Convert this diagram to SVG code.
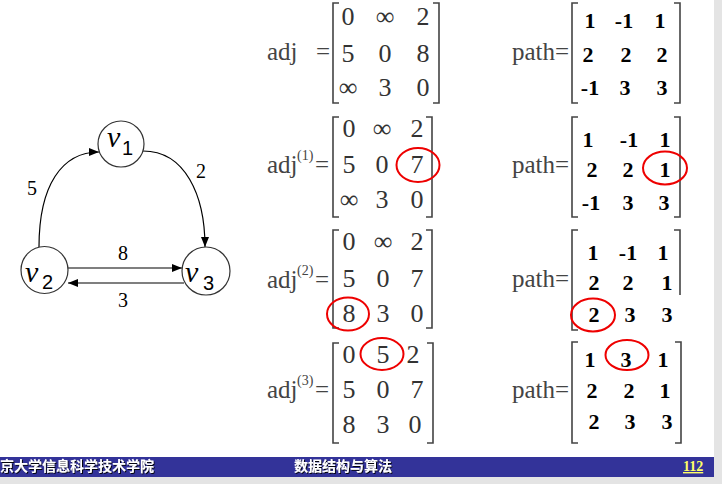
<svg xmlns="http://www.w3.org/2000/svg" width="722" height="484" viewBox="0 0 722 484">
<style>
.node circle{fill:#fff;stroke:#333;stroke-width:1.2}
.vl{font-style:italic;font-size:30px;fill:#000}
.vs{font-size:20px;fill:#000}
.el{font-size:20px;fill:#000;text-anchor:middle}
.edge{fill:none;stroke:#000;stroke-width:1.2}
.lab{font-size:25px;fill:#444}
.sup{font-size:14px;fill:#444}
.an{font-size:26px;fill:#333;text-anchor:middle}
.pn{font-size:22px;font-weight:bold;fill:#000;text-anchor:middle}
.br{fill:none;stroke:#444;stroke-width:1.6}
.hl{fill:none;stroke:#e00;stroke-width:2}
.ft{font-size:14px;font-weight:bold;fill:#fff}
</style>
<defs>
<marker id="arr" markerUnits="userSpaceOnUse" markerWidth="11" markerHeight="9" refX="10" refY="4" orient="auto">
<path d="M0,0 L10,4 L0,8 z" fill="#000"/>
</marker>
<filter id="sh" x="-5%" y="-20%" width="110%" height="140%">
<feDropShadow dx="1" dy="1" stdDeviation="0.3" flood-color="#000" flood-opacity="0.9"/>
</filter>
</defs>
<rect width="722" height="484" fill="#fff"/>
<rect x="714" y="0" width="8" height="484" fill="#e4e4e4"/>
<rect x="0" y="477" width="722" height="7" fill="#e4e4e4"/>

<g font-family="Liberation Serif, Times New Roman, serif">
<g id="edges">
<path class="edge" d="M39,247 C39,185 62,152 99,152" marker-end="url(#arr)"/>
<path class="edge" d="M143,151 C185,151 205,195 205,247" marker-end="url(#arr)"/>
<path class="edge" d="M68,268 L182,268" marker-end="url(#arr)"/>
<path class="edge" d="M184,283 L68,283" marker-end="url(#arr)"/>
<text class="el" x="32" y="195">5</text>
<text class="el" x="201" y="178">2</text>
<text class="el" x="123" y="260">8</text>
<text class="el" x="123" y="307">3</text>
</g>

<g id="v1" class="node">
<circle cx="121" cy="144" r="23"/>
<text class="vl" x="107" y="147">v</text><text class="vs" font-family="Liberation Sans, Arial, sans-serif" x="122" y="155">1</text>
</g>
<g id="v2" class="node">
<circle cx="44.5" cy="270" r="23.5"/>
<text class="vl" x="25" y="282">v</text><text class="vs" font-family="Liberation Sans, Arial, sans-serif" x="42" y="289">2</text>
</g>
<g id="v3" class="node">
<circle cx="206" cy="271" r="24"/>
<text class="vl" x="185" y="282">v</text><text class="vs" font-family="Liberation Sans, Arial, sans-serif" x="203" y="290">3</text>
</g>

<g id="adj0">
<text class="lab" x="267" y="60">adj</text>
<text class="lab" x="316" y="60">=</text>
<path class="br" d="M339,3 H333 V103 H339 M433,3 H439 V103 H433"/>
<text class="an" x="348" y="25">0</text><text class="an" x="385" y="25">∞</text><text class="an" x="423" y="25">2</text>
<text class="an" x="348" y="62">5</text><text class="an" x="385" y="62">0</text><text class="an" x="423" y="62">8</text>
<text class="an" x="348" y="96">∞</text><text class="an" x="385" y="96">3</text><text class="an" x="423" y="96">0</text>
</g>
<g id="path0">
<text class="lab" x="512" y="60">path=</text>
<path class="br" d="M578,3 H572 V103 H578 M674,3 H680 V103 H674"/>
<text class="pn" x="590" y="28">1</text><text class="pn" x="624" y="28">-1</text><text class="pn" x="660" y="28">1</text>
<text class="pn" x="588" y="62">2</text><text class="pn" x="626" y="62">2</text><text class="pn" x="662" y="62">2</text>
<text class="pn" x="590" y="95">-1</text><text class="pn" x="625" y="95">3</text><text class="pn" x="662" y="95">3</text>
</g>

<g id="adj1">
<text class="lab" x="267" y="173">adj</text>
<text class="sup" x="297" y="160">(1)</text>
<text class="lab" x="315" y="173">=</text>
<path class="br" d="M339,117 H333 V217 H339 M426,117 H432 V217 H426"/>
<text class="an" x="349" y="137">0</text><text class="an" x="382" y="137">∞</text><text class="an" x="417" y="137">2</text>
<text class="an" x="349" y="173">5</text><text class="an" x="382" y="173">0</text><text class="an" x="417" y="173">7</text>
<text class="an" x="349" y="208">∞</text><text class="an" x="382" y="208">3</text><text class="an" x="417" y="208">0</text>
<ellipse class="hl" cx="418" cy="165" rx="21.5" ry="17"/>
</g>
<g id="path1">
<text class="lab" x="512" y="173">path=</text>
<path class="br" d="M578,117 H572 V217 H578 M674,117 H680 V217 H674"/>
<text class="pn" x="588" y="147">1</text><text class="pn" x="629" y="147">-1</text><text class="pn" x="665" y="147">1</text>
<text class="pn" x="592" y="177">2</text><text class="pn" x="628" y="177">2</text><text class="pn" x="665" y="177">1</text>
<text class="pn" x="591" y="210">-1</text><text class="pn" x="628" y="210">3</text><text class="pn" x="664" y="210">3</text>
<ellipse class="hl" cx="665" cy="168" rx="22" ry="16.5"/>
</g>

<g id="adj2">
<text class="lab" x="267" y="288">adj</text>
<text class="sup" x="297" y="275">(2)</text>
<text class="lab" x="315" y="288">=</text>
<path class="br" d="M339,230 H333 V328 H339 M426,230 H432 V328 H426"/>
<text class="an" x="349" y="250">0</text><text class="an" x="383" y="250">∞</text><text class="an" x="417" y="250">2</text>
<text class="an" x="349" y="287">5</text><text class="an" x="383" y="287">0</text><text class="an" x="417" y="287">7</text>
<text class="an" x="349" y="322">8</text><text class="an" x="383" y="322">3</text><text class="an" x="417" y="322">0</text>
<ellipse class="hl" cx="348" cy="314" rx="21" ry="16.5"/>
</g>
<g id="path2">
<text class="lab" x="512" y="287">path=</text>
<path class="br" d="M578,230 H572 V330 H578 M674,230 H680 V295"/>
<text class="pn" x="593" y="260">1</text><text class="pn" x="628" y="260">-1</text><text class="pn" x="663" y="260">1</text>
<text class="pn" x="594" y="290">2</text><text class="pn" x="628" y="290">2</text><text class="pn" x="667" y="290">1</text>
<text class="pn" x="594" y="322">2</text><text class="pn" x="630" y="322">3</text><text class="pn" x="667" y="322">3</text>
<ellipse class="hl" cx="593" cy="315" rx="22" ry="16.5"/>
</g>

<g id="adj3">
<text class="lab" x="267" y="398">adj</text>
<text class="sup" x="297" y="385">(3)</text>
<text class="lab" x="315" y="398">=</text>
<path class="br" d="M339,343 H333 V443 H339 M427,343 H433 V443 H427"/>
<text class="an" x="349" y="363">0</text><text class="an" x="383" y="363">5</text><text class="an" x="413" y="363">2</text>
<text class="an" x="349" y="398">5</text><text class="an" x="383" y="398">0</text><text class="an" x="417" y="398">7</text>
<text class="an" x="349" y="433">8</text><text class="an" x="383" y="433">3</text><text class="an" x="415" y="433">0</text>
<ellipse class="hl" cx="382" cy="354" rx="21.5" ry="16"/>
</g>
<g id="path3">
<text class="lab" x="512" y="398">path=</text>
<path class="br" d="M578,342 H572 V443 H578 M675,342 H681 V443 H675"/>
<text class="pn" x="590" y="367">1</text><text class="pn" x="626" y="367">3</text><text class="pn" x="663" y="367">1</text>
<text class="pn" x="592" y="398">2</text><text class="pn" x="629" y="398">2</text><text class="pn" x="665" y="398">1</text>
<text class="pn" x="594" y="429">2</text><text class="pn" x="630" y="429">3</text><text class="pn" x="667" y="429">3</text>
<ellipse class="hl" cx="627" cy="355" rx="21.5" ry="15"/>
</g>
</g>

<g id="footer">
<rect x="0" y="457" width="714" height="20" fill="#333399"/>
<g font-family="Noto Sans CJK SC, sans-serif">
<text class="ft" x="0" y="471" filter="url(#sh)">京大学信息科学技术学院</text>
<text class="ft" x="294" y="471" filter="url(#sh)">数据结构与算法</text>
</g>
<text x="683" y="471" font-family="Liberation Serif, serif" font-size="14" font-weight="bold" fill="#ffff66" text-decoration="underline">112</text>
</g>
</svg>
